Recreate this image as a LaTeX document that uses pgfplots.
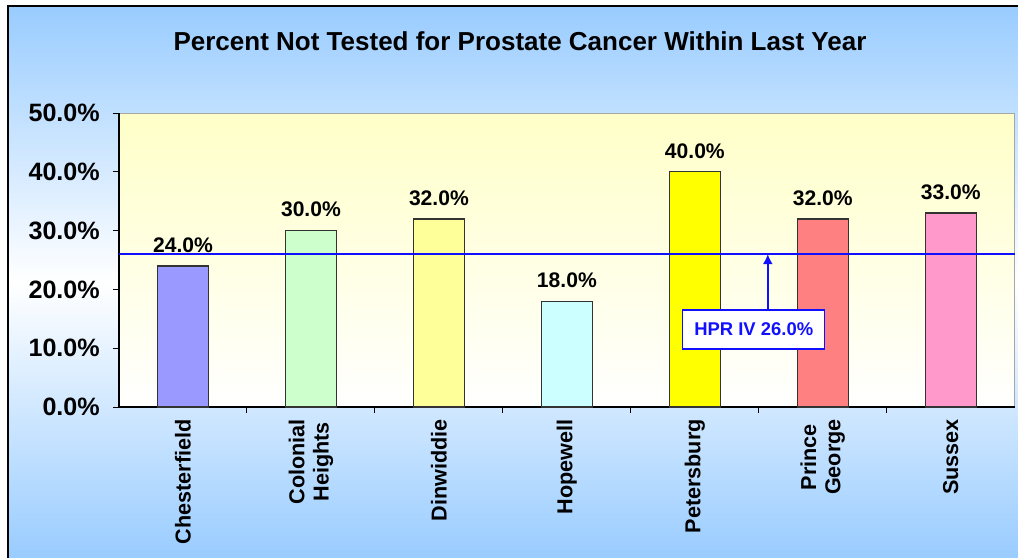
\documentclass[border=0pt]{standalone}
\usepackage{pgfplots}
\pgfplotsset{compat=1.18}
\usepackage{fontspec}
\setmainfont{Liberation Sans}
\usetikzlibrary{arrows.meta}
\definecolor{bgblue}{HTML}{99CCFF}
\definecolor{plotyel}{HTML}{FFFFC8}
\definecolor{cChe}{HTML}{9999FF}
\definecolor{cCol}{HTML}{CCFFCC}
\definecolor{cDin}{HTML}{FFFF99}
\definecolor{cHop}{HTML}{CCFFFF}
\definecolor{cPet}{HTML}{FFFF00}
\definecolor{cPri}{HTML}{FF8080}
\definecolor{cSus}{HTML}{FF99CC}
\definecolor{hprblue}{HTML}{1010FF}
\begin{document}
\begin{tikzpicture}
\begin{scope}[x=0.02cm,y=0.02cm]
\useasboundingbox (0,0) rectangle (1018,558);
\shade[top color=bgblue, bottom color=bgblue, middle color=white] (8,0) rectangle (1018,552);
\draw[black, line width=0.8pt] (8,0) -- (8,552) -- (1018,552);
\node[font=\fontsize{14.8}{16}\selectfont\bfseries, anchor=base, inner sep=0pt] at (520,507) {Percent Not Tested for Prostate Cancer Within Last Year};
\end{scope}
\begin{axis}[
  at={(2.38cm,3.02cm)}, anchor=south west,
  scale only axis, width=17.92cm, height=5.88cm,
  xmin=-0.5, xmax=6.5, ymin=0, ymax=50,
  axis lines*=left,
  axis line style={black, line width=0.7pt},
  axis background/.style={top color=plotyel, bottom color=white, draw=gray!70},
  ytick={0,10,...,50},
  yticklabel={\pgfmathprintnumber[fixed,fixed zerofill,precision=1]{\tick}\%},
  yticklabel style={font=\fontsize{14.3}{16}\selectfont\bfseries, xshift=-0.14cm},
  xtick={0,...,6},
  xticklabels={Chesterfield,{Colonial\\Heights},Dinwiddie,Hopewell,Petersburg,{Prince\\George},Sussex},
  xticklabel style={rotate=90, anchor=east, align=center, font=\fontsize{12.3}{13.8}\selectfont\bfseries},
  minor xtick={0.5,1.5,...,5.5},
  tick align=outside,
  major tick length=0.12cm, minor tick length=0.12cm,
  major x tick style={draw=none},
  tick style={black, line width=0.6pt},
  /pgf/number format/assume math mode=true,
  clip=false,
  mybar/.style={ybar, bar width=0.4, bar shift=0pt, fill=#1, draw=black!80, line width=0.7pt,
    nodes near coords={\pgfmathprintnumber[fixed,fixed zerofill,precision=1]{\pgfplotspointmeta}\%},
    nodes near coords style={font=\fontsize{12}{13.5}\selectfont\bfseries, text=black, inner sep=0pt, anchor=south, yshift=0.26cm},
    point meta=y},
]
\addplot[mybar=cChe] coordinates {(0,24)};
\addplot[mybar=cCol] coordinates {(1,30)};
\addplot[mybar=cDin] coordinates {(2,32)};
\addplot[mybar=cHop] coordinates {(3,18)};
\addplot[mybar=cPet] coordinates {(4,40)};
\addplot[mybar=cPri] coordinates {(5,32)};
\addplot[mybar=cSus] coordinates {(6,33)};
\addplot[hprblue, line width=0.9pt, sharp plot, mark=none] coordinates {(-0.5,26) (6.5,26)};
\draw[hprblue, line width=0.9pt, -{Latex[length=0.2cm,width=0.2cm]}] (axis cs:4.57,16.5) -- (axis cs:4.57,26);
\node[draw=hprblue, line width=0.8pt, fill=white, text=hprblue, font=\fontsize{10.5}{12}\selectfont\bfseries, minimum width=2.84cm, minimum height=0.78cm, inner sep=0pt] at (axis cs:4.46,13.18) {HPR IV 26.0\%};
\end{axis}
\end{tikzpicture}
\end{document}
